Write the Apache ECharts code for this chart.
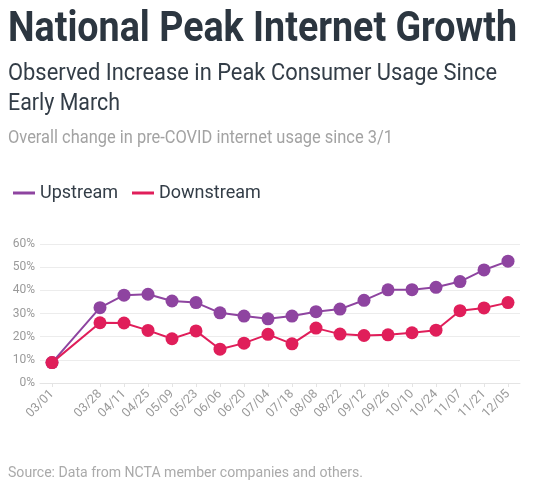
<!DOCTYPE html>
<html>
<head>
<meta charset="utf-8">
<script src="https://cdn.jsdelivr.net/npm/echarts@6/dist/echarts.min.js"></script>
<style>
html,body{margin:0;padding:0;background:#fff;}
#chart{width:540px;height:500px;}
</style>
</head>
<body>
<div id="chart"></div>
<script>
// Data
var categories = ['03/01','','03/28','04/11','04/25','05/09','05/23','06/06','06/20','07/04','07/18','08/08','08/22','09/12','09/26','10/10','10/24','11/07','11/21','12/05'];
var upstream   = [8.8, null, 32.5, 37.9, 38.3, 35.4, 34.7, 30.3, 28.9, 27.7, 28.9, 30.8, 31.9, 35.7, 40.2, 40.3, 41.3, 43.8, 48.8, 52.6];
var downstream = [8.8, null, 26.0, 25.9, 22.7, 19.1, 22.5, 14.6, 17.2, 21.0, 16.9, 23.7, 21.1, 20.5, 20.8, 21.7, 22.8, 31.2, 32.4, 34.7];
var yTicks = [0, 10, 20, 30, 40, 50, 60];

var titleText = 'National Peak Internet Growth';
var subLine1 = 'Observed Increase in Peak Consumer Usage Since';
var subLine2 = 'Early March';
var descText = 'Overall change in pre-COVID internet usage since 3/1';
var sourceText = 'Source: Data from NCTA member companies and others.';

var ctx = document.createElement('canvas').getContext('2d');
function fit(text, font, w) { ctx.font = font; return w / ctx.measureText(text).width; }

var FAM = 'Roboto';
var fTitle = 'bold 43px ' + FAM;
var fSub = '24px ' + FAM;
var fDesc = '18px ' + FAM;
var fSrc = '15px ' + FAM;

function txt(text, font, x, y, w, color) {
  return {
    type: 'text', x: x, y: y, scaleX: fit(text, font, w), scaleY: 1,
    style: { text: text, font: font, fill: color, verticalAlign: 'middle', align: 'left' }
  };
}

var chart = echarts.init(document.getElementById('chart'), null, { renderer: 'canvas' });
chart.setOption({
  animation: false,
  backgroundColor: '#fff',
  textStyle: { fontFamily: FAM },
  graphic: [
    txt(titleText, fTitle, 8, 30, 509, '#2c3640'),
    txt(subLine1, fSub, 8, 74, 489, '#333d47'),
    txt(subLine2, fSub, 8, 104, 112, '#333d47'),
    txt(descText, fDesc, 8, 138, 385, '#a3a3a3'),
    txt(sourceText, fSrc, 8, 473, 355, '#aaaaaa')
  ],
  legend: {
    left: 8, top: 179,
    icon: 'rect', itemWidth: 22, itemHeight: 3, itemGap: 14,
    textStyle: { fontSize: 18, color: '#333d47', fontFamily: FAM },
    data: ['Upstream', 'Downstream']
  },
  grid: { left: 40, right: 20, top: 244, bottom: 117 },
  xAxis: {
    type: 'category',
    data: categories,
    boundaryGap: true,
    axisLine: { show: true, lineStyle: { color: '#e4e4e4' } },
    axisTick: {
      show: true, alignWithLabel: true, length: 4,
      interval: function (i, v) { return v !== ''; },
      lineStyle: { color: '#e4e4e4' }
    },
    axisLabel: { interval: 0, rotate: 45, color: '#9a9a9a', fontSize: 12.5, margin: 9, fontFamily: FAM }
  },
  yAxis: {
    type: 'value',
    min: yTicks[0], max: yTicks[yTicks.length - 1], interval: 10,
    axisLine: { show: false },
    axisTick: { show: false },
    splitLine: { lineStyle: { color: '#ececec' } },
    axisLabel: { formatter: '{value}%', color: '#9a9a9a', fontSize: 12, margin: 5, fontFamily: FAM }
  },
  series: [
    {
      name: 'Upstream', type: 'line', data: upstream, connectNulls: true,
      color: '#8e44a0', symbol: 'circle', symbolSize: 13,
      lineStyle: { width: 2 }, itemStyle: { color: '#8e44a0' }
    },
    {
      name: 'Downstream', type: 'line', data: downstream, connectNulls: true,
      color: '#e01e5a', symbol: 'circle', symbolSize: 13,
      lineStyle: { width: 2 }, itemStyle: { color: '#e01e5a' }
    }
  ]
});
</script>
</body>
</html>
